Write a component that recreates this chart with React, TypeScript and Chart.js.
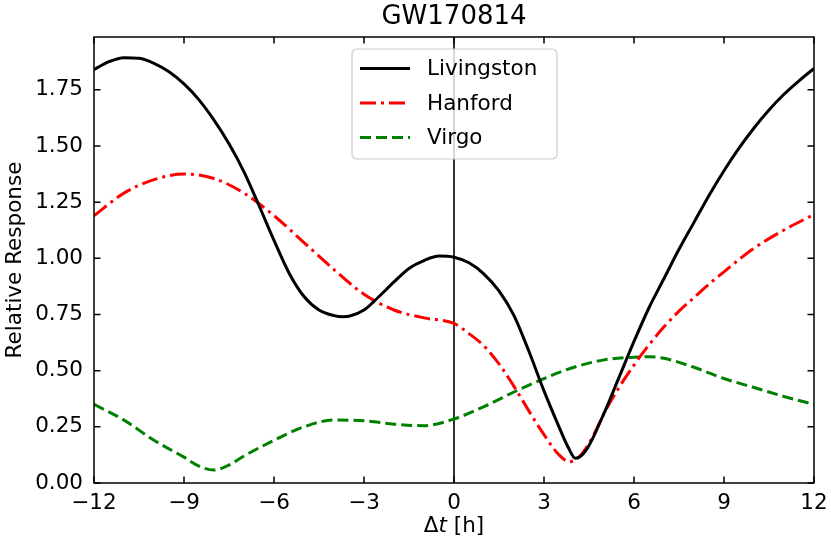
import React, { useEffect, useRef } from "react";
import Chart from "chart.js/auto";

const livingstonT = [-12, -11.5, -11, -10.5, -10, -9.5, -9, -8.5, -8, -7.5, -7, -6.5, -6, -5.5, -5, -4.5, -4, -3.7, -3.5, -3, -2.5, -2, -1.5, -1, -0.5, 0, 0.5, 1, 1.5, 2, 2.5, 3, 3.5, 3.8, 4.05, 4.4, 5, 5.5, 6, 6.5, 7, 7.5, 8, 8.5, 9, 9.5, 10, 10.5, 11, 11.5, 12];
const livingstonR = [1.84, 1.875, 1.893, 1.89, 1.868, 1.83, 1.776, 1.705, 1.615, 1.51, 1.385, 1.235, 1.08, 0.935, 0.83, 0.77, 0.745, 0.74, 0.742, 0.77, 0.83, 0.895, 0.955, 0.99, 1.01, 1.005, 0.98, 0.93, 0.855, 0.745, 0.585, 0.41, 0.25, 0.16, 0.11, 0.145, 0.31, 0.47, 0.63, 0.78, 0.91, 1.04, 1.16, 1.28, 1.39, 1.49, 1.58, 1.66, 1.73, 1.79, 1.845];

const hanfordT = [-12, -11, -10, -9, -8, -7, -6, -5, -4, -3, -2, -1, 0, 0.5, 1, 1.5, 2, 2.5, 3, 3.5, 3.85, 4.2, 4.6, 5, 5.5, 6, 6.5, 7, 7.5, 8, 8.5, 9, 9.5, 10, 11, 12];
const hanfordR = [1.19, 1.29, 1.35, 1.375, 1.355, 1.29, 1.19, 1.07, 0.95, 0.84, 0.77, 0.735, 0.71, 0.665, 0.61, 0.53, 0.43, 0.32, 0.215, 0.125, 0.095, 0.12, 0.2, 0.31, 0.425, 0.525, 0.615, 0.695, 0.765, 0.825, 0.885, 0.94, 0.995, 1.045, 1.126, 1.195];

const virgoT = [-12, -11, -10, -9, -8.5, -8, -7.5, -7, -6, -5, -4, -3, -2, -1, 0, 1, 2, 3, 4, 5, 6, 6.5, 7, 8, 9, 10, 11, 12];
const virgoR = [0.35, 0.28, 0.19, 0.115, 0.075, 0.058, 0.08, 0.12, 0.19, 0.25, 0.28, 0.277, 0.262, 0.255, 0.285, 0.34, 0.405, 0.465, 0.515, 0.548, 0.56, 0.562, 0.555, 0.515, 0.465, 0.425, 0.385, 0.35];

const xTicks = [-12, -9, -6, -3, 0, 3, 6, 9, 12];
const yTicks = [0, 0.25, 0.5, 0.75, 1.0, 1.25, 1.5, 1.75];

const FONT = "'DejaVu Sans', sans-serif";

const series = [
    { label: "Livingston", t: livingstonT, r: livingstonR, color: "#000000", dash: [] as number[] },
    { label: "Hanford", t: hanfordT, r: hanfordR, color: "#ff0000", dash: [16, 5, 3, 5] },
    { label: "Virgo", t: virgoT, r: virgoR, color: "#008000", dash: [11, 5] },
];

const minus = (v: number) => String(v).replace("-", "\u2212");

const decorations = {
    id: "decorations",
    beforeDatasetsDraw(chart: any) {
        const { ctx, chartArea: a, scales } = chart;
        const x0 = scales.x.getPixelForValue(0);
        ctx.save();
        ctx.strokeStyle = "#000";
        ctx.lineWidth = 1.6;
        ctx.beginPath();
        ctx.moveTo(x0, a.top);
        ctx.lineTo(x0, a.bottom);
        ctx.stroke();
        ctx.restore();
    },
    afterDraw(chart: any) {
        const { ctx, chartArea: a, scales } = chart;
        ctx.save();
        // frame
        ctx.strokeStyle = "#000";
        ctx.lineWidth = 1.5;
        ctx.strokeRect(a.left, a.top, a.right - a.left, a.bottom - a.top);
        // inward ticks on all four sides
        const len = 6.5;
        ctx.beginPath();
        xTicks.forEach((v) => {
            const px = scales.x.getPixelForValue(v);
            ctx.moveTo(px, a.bottom);
            ctx.lineTo(px, a.bottom - len);
            ctx.moveTo(px, a.top);
            ctx.lineTo(px, a.top + len);
        });
        yTicks.forEach((v) => {
            const py = scales.y.getPixelForValue(v);
            ctx.moveTo(a.left, py);
            ctx.lineTo(a.left + len, py);
            ctx.moveTo(a.right, py);
            ctx.lineTo(a.right - len, py);
        });
        ctx.stroke();

        // tick labels
        ctx.fillStyle = "#000";
        ctx.font = `21.5px ${FONT}`;
        ctx.textBaseline = "middle";
        ctx.textAlign = "center";
        xTicks.forEach((v) => {
            ctx.fillText(minus(v), scales.x.getPixelForValue(v), a.bottom + 20);
        });
        ctx.textAlign = "right";
        yTicks.forEach((v) => {
            ctx.fillText(v.toFixed(2), a.left - 11, scales.y.getPixelForValue(v));
        });

        // legend box
        const lx = 352, ly = 49, lw = 205, lh = 110, rad = 5;
        ctx.beginPath();
        ctx.moveTo(lx + rad, ly);
        ctx.arcTo(lx + lw, ly, lx + lw, ly + lh, rad);
        ctx.arcTo(lx + lw, ly + lh, lx, ly + lh, rad);
        ctx.arcTo(lx, ly + lh, lx, ly, rad);
        ctx.arcTo(lx, ly, lx + lw, ly, rad);
        ctx.closePath();
        ctx.fillStyle = "rgba(255,255,255,0.8)";
        ctx.fill();
        ctx.strokeStyle = "#cccccc";
        ctx.lineWidth = 1.2;
        ctx.stroke();
        ctx.textAlign = "left";
        series.forEach((s, i) => {
            const yy = 68.5 + i * 34.5;
            ctx.strokeStyle = s.color;
            ctx.lineWidth = 3;
            ctx.setLineDash(s.dash);
            ctx.beginPath();
            ctx.moveTo(360, yy);
            ctx.lineTo(410, yy);
            ctx.stroke();
            ctx.setLineDash([]);
            ctx.fillStyle = "#000";
            ctx.fillText(s.label, 427, yy + 1);
        });

        // title
        const cx = (a.left + a.right) / 2;
        ctx.fillStyle = "#000";
        ctx.textAlign = "center";
        ctx.font = `26px ${FONT}`;
        ctx.fillText("GW170814", cx, 17);

        // x label: Δt [h]
        const parts = [
            { s: "\u0394", f: `21.5px ${FONT}` },
            { s: "t", f: `italic 21.5px ${FONT}` },
            { s: " [h]", f: `21.5px ${FONT}` },
        ];
        const widths = parts.map((p) => {
            ctx.font = p.f;
            return ctx.measureText(p.s).width;
        });
        let px = cx - widths.reduce((p, c) => p + c, 0) / 2;
        ctx.textAlign = "left";
        parts.forEach((p, i) => {
            ctx.font = p.f;
            ctx.fillText(p.s, px, 526);
            px += widths[i];
        });

        // y label
        ctx.translate(15, (a.top + a.bottom) / 2);
        ctx.rotate(-Math.PI / 2);
        ctx.textAlign = "center";
        ctx.font = `21.5px ${FONT}`;
        ctx.fillText("Relative Response", 0, 0);
        ctx.restore();
    },
};

const App = () => {
    const canvasRef = useRef<HTMLCanvasElement | null>(null);
    const chartRef = useRef<Chart | null>(null);

    useEffect(() => {
        const ctx = canvasRef.current?.getContext("2d");
        if (!ctx) return;
        chartRef.current = new Chart(ctx, {
            type: "line",
            data: {
                datasets: series.map((s) => ({
                    label: s.label,
                    data: s.t.map((t, i) => ({ x: t, y: s.r[i] })),
                    borderColor: s.color,
                    borderWidth: 3,
                    borderDash: s.dash,
                    pointRadius: 0,
                    fill: false,
                    cubicInterpolationMode: "monotone" as const,
                })),
            },
            options: {
                animation: false,
                responsive: false,
                layout: { padding: { top: 37, right: 17, left: 0, bottom: 0 } },
                plugins: {
                    legend: { display: false },
                    title: { display: false },
                    tooltip: { enabled: false },
                },
                scales: {
                    x: {
                        type: "linear",
                        min: -12,
                        max: 12,
                        afterFit: (s: any) => {
                            s.height = 66;
                        },
                        grid: { display: false },
                        border: { display: false },
                        ticks: { display: false },
                    },
                    y: {
                        min: 0,
                        max: 1.985,
                        afterFit: (s: any) => {
                            s.width = 94;
                        },
                        grid: { display: false },
                        border: { display: false },
                        ticks: { display: false },
                    },
                },
            },
            plugins: [decorations],
        });
        return () => {
            chartRef.current?.destroy();
            chartRef.current = null;
        };
    }, []);

    return (
        <div style={{ position: "absolute", left: 0, top: 0, background: "#fff" }}>
            <canvas ref={canvasRef} width={831} height={549} />
        </div>
    );
};

export default App;
